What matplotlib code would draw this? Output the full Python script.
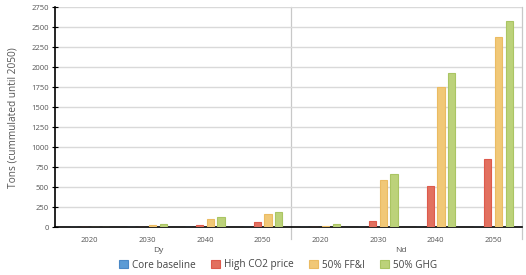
import matplotlib.pyplot as plt
import numpy as np
from matplotlib.patches import Patch

plt.rcParams['font.family'] = ['Open Sans', 'DejaVu Sans']

# data
groups = ["Dy", "Nd"]
years = ["2020", "2030", "2040", "2050"]
series = ["Core baseline", "High CO2 price", "50% FF&I", "50% GHG"]
core_dy = [0, 0, 0, 0]
high_co2_dy = [0, 0, 35, 70]
ffi_dy = [0, 35, 110, 172]
ghg_dy = [0, 45, 130, 188]
core_nd = [0, 0, 0, 0]
high_co2_nd = [0, 80, 512, 860]
ffi_nd = [20, 587, 1752, 2378]
ghg_nd = [40, 662, 1932, 2585]

colors = ['#5b9bd5', '#e2705f', '#f1c877', '#bcd27a']
edges = ['#4a88c6', '#dd5a4c', '#ebbb62', '#aac563']

values = [core_dy + core_nd, high_co2_dy + high_co2_nd,
          ffi_dy + ffi_nd, ghg_dy + ghg_nd]

fig = plt.figure(figsize=(5.26, 2.75), dpi=100)
ax = fig.add_axes([55 / 526, 1 - 227.3 / 275, (522 - 55) / 526, (227.3 - 7.3) / 275])

x = np.arange(len(groups) * len(years))
step = 0.187
width = 0.125
for i, (vals, c, e) in enumerate(zip(values, colors, edges)):
    ax.bar(x + (i - 1.5) * step, vals, width=width, color=c, edgecolor=e,
           linewidth=0.8, zorder=3, label=series[i])

ax.set_xlim(-0.6, 7.5)
ax.set_ylim(0, 2750)
ax.set_yticks(np.arange(0, 2751, 250))
ax.set_xticks(x)
ax.set_xticklabels(years * len(groups))
ax.grid(axis='y', color='#d9d9d9', linewidth=1, zorder=0)

ax.spines['top'].set_visible(False)
ax.spines['right'].set_visible(False)
ax.spines['left'].set_linewidth(1.2)
ax.spines['bottom'].set_linewidth(1.2)
ax.tick_params(axis='y', direction='inout', length=5, width=0.8,
               labelsize=5.5, labelcolor='#555555', pad=2)
ax.tick_params(axis='x', length=0, labelsize=5.5, labelcolor='#555555', pad=7)

# group divider and right border
trans = ax.get_xaxis_transform()
for xv in [3.5, 7.5]:
    ax.plot([xv, xv], [-0.055, 1.0], transform=trans, color='#c8c8c8',
            linewidth=0.9, clip_on=False, zorder=1)

ax.text(158 / 526, 1 - 250 / 275, groups[0], transform=fig.transFigure,
        ha='center', va='center', fontsize=6, color='#555555')
ax.text(401 / 526, 1 - 250 / 275, groups[1], transform=fig.transFigure,
        ha='center', va='center', fontsize=6, color='#555555')

ax.set_ylabel("Tons (cummulated until 2050)", fontsize=7.3, color='#555555', labelpad=9)

handles = [Patch(facecolor=c, edgecolor=e, linewidth=0.8) for c, e in zip(colors, edges)]
fig.legend(handles, series, loc='center', bbox_to_anchor=(278 / 526, 1 - 265 / 275),
           ncol=4, frameon=False, fontsize=7.2, handlelength=0.9, handleheight=0.9,
           handletextpad=0.4, columnspacing=1.5, labelcolor='#444444')

fig.savefig('out.png', dpi=100)
